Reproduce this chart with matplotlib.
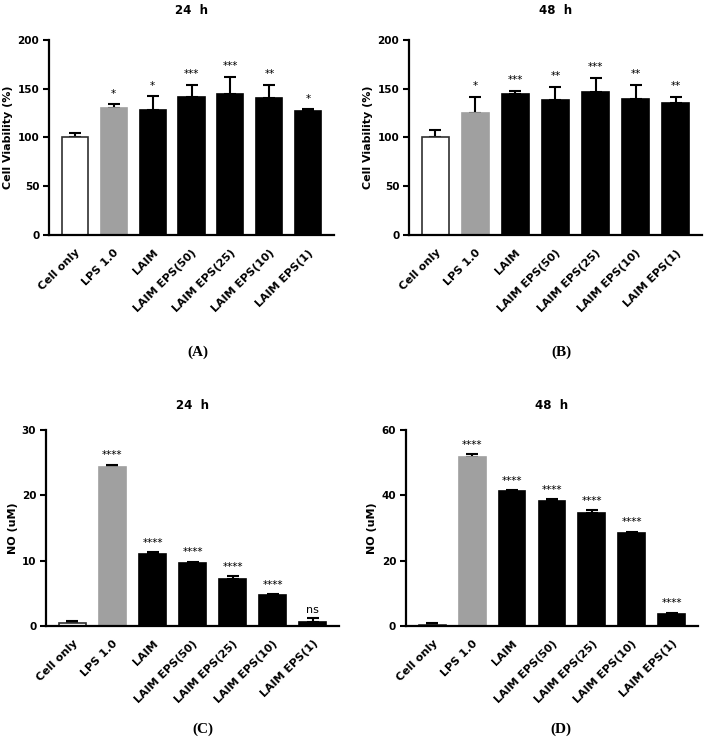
"""
plot.py - cell viability and NO production bar panels (A-D)
"""
import matplotlib
matplotlib.use("Agg")
import matplotlib.pyplot as plt
import numpy as np

groups = ["Cell only", "LPS 1.0", "LAIM", "LAIM EPS(50)", "LAIM EPS(25)",
          "LAIM EPS(10)", "LAIM EPS(1)"]

# cell viability (%)
via_24 = [100, 130, 128.7, 141.6, 144.5, 140, 127]
via_24_err = [4.5, 4, 13.5, 12.5, 17.5, 14, 2]
via_24_sig = ["", "*", "*", "***", "***", "**", "*"]

via_48 = [100, 125.6, 145, 138, 147, 139.6, 135]
via_48_err = [7.5, 16, 3, 14, 14, 14.5, 7]
via_48_sig = ["", "*", "***", "**", "***", "**", "**"]

# nitric oxide (uM)
no_24 = [0.5, 24.4, 11.0, 9.6, 7.2, 4.7, 0.65]
no_24_err = [0.3, 0.3, 0.3, 0.25, 0.4, 0.2, 0.6]
no_24_sig = ["", "****", "****", "****", "****", "****", "ns"]

no_48 = [0.4, 51.7, 41.2, 38.3, 34.7, 28.5, 3.7]
no_48_err = [0.4, 0.9, 0.5, 0.5, 0.8, 0.4, 0.4]
no_48_sig = ["", "****", "****", "****", "****", "****", "****"]

colors = ["white", "#a0a0a0"] + ["black"] * 5
edges = ["#303030", "#a0a0a0"] + ["black"] * 5

FONT = "DejaVu Sans"


def draw_panel(ax, vals, errs, sigs, title, ylabel, yticks, sig_off, pad):
    x = np.arange(len(groups))
    ax.bar(x, vals, width=0.67, color=colors, edgecolor=edges, linewidth=1.2, zorder=2)
    ax.errorbar(x, vals, yerr=[np.zeros(len(vals)), errs], fmt="none",
                ecolor="black", elinewidth=1.5, capsize=4, capthick=1.5, zorder=1)
    for xi, v, e, s in zip(x, vals, errs, sigs):
        if not s:
            continue
        if s == "ns":
            ax.annotate(s, xy=(xi, v + e), xytext=(0, 2), textcoords="offset points",
                        ha="center", va="bottom", fontsize=8, family=FONT)
        else:
            ax.annotate(s, xy=(xi, v + e), xytext=(0, sig_off), textcoords="offset points",
                        ha="center", va="bottom", fontsize=7.5, family=FONT)

    ax.set_xlim(-0.66, 6.66)
    ax.set_ylim(yticks[0], yticks[-1])
    ax.set_yticks(yticks)
    ax.set_xticks(x)
    ax.set_xticklabels(groups, rotation=45, ha="right", rotation_mode="anchor",
                       fontsize=8, fontweight="bold", family=FONT)
    for lab in ax.get_yticklabels():
        lab.set_fontweight("bold")
        lab.set_family(FONT)
        lab.set_fontsize(7.5)
    ax.tick_params(axis="x", length=0, pad=9)
    ax.tick_params(axis="y", length=4, width=1.5, direction="out", pad=3)
    for side in ["top", "right"]:
        ax.spines[side].set_visible(False)
    for side in ["left", "bottom"]:
        ax.spines[side].set_linewidth(1.6)
    ax.set_ylabel(ylabel, fontsize=8, fontweight="bold", family=FONT, labelpad=3)
    ax.set_title(title, fontsize=8.5, fontweight="bold", family=FONT, pad=pad)


fig = plt.figure(figsize=(7.08, 7.54), dpi=100)

ax_a = fig.add_axes([0.0692, 0.6883, 0.4026, 0.2587])
ax_b = fig.add_axes([0.5777, 0.6883, 0.4138, 0.2587])
ax_c = fig.add_axes([0.0650, 0.1698, 0.4140, 0.2599])
ax_d = fig.add_axes([0.5734, 0.1698, 0.4124, 0.2599])

draw_panel(ax_a, via_24, via_24_err, via_24_sig, "24  h", "Cell Viability (%)",
           [0, 50, 100, 150, 200], 4, 19)
draw_panel(ax_b, via_48, via_48_err, via_48_sig, "48  h", "Cell Viability (%)",
           [0, 50, 100, 150, 200], 4, 19)
draw_panel(ax_c, no_24, no_24_err, no_24_sig, "24  h", "NO (uM)",
           [0, 10, 20, 30], 3, 15)
draw_panel(ax_d, no_48, no_48_err, no_48_sig, "48  h", "NO (uM)",
           [0, 20, 40, 60], 3, 15)

# panel letters
for lbl, xp, yp in [("(A)", 198, 352), ("(B)", 561, 352), ("(C)", 203, 729), ("(D)", 561, 729)]:
    fig.text(xp / 708, 1 - yp / 754, lbl, ha="center", va="center",
             fontsize=11, fontweight="bold", family="Liberation Serif")

fig.savefig("out.png", dpi=100)
